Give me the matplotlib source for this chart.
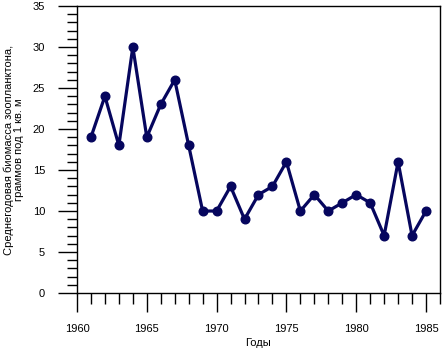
import matplotlib
matplotlib.use("Agg")
import matplotlib.pyplot as plt
from matplotlib.ticker import MultipleLocator

years = [1961, 1962, 1963, 1964, 1965, 1966, 1967, 1968, 1969, 1970, 1971, 1972, 1973,
         1974, 1975, 1976, 1977, 1978, 1979, 1980, 1981, 1982, 1983, 1984, 1985]
biomass = [19, 24, 18, 30, 19, 23, 26, 18, 10, 10, 13, 9, 12,
           13, 16, 10, 12, 10, 11, 12, 11, 7, 16, 7, 10]

plt.rcParams['font.family'] = ['Liberation Sans', 'DejaVu Sans']

fig = plt.figure(figsize=(4.46, 3.55), dpi=100)
ax = fig.add_axes([0.1726, 0.1746, 0.9865 - 0.1726, 0.983 - 0.1746])
color = '#06065e'
ax.plot(years, biomass, color=color, lw=2.3, marker='o', ms=6.2, mec=color, mfc=color)

ax.set_xlim(1960, 1986)
ax.set_ylim(0, 35)
ax.xaxis.set_major_locator(MultipleLocator(5))
ax.xaxis.set_minor_locator(MultipleLocator(1))
ax.yaxis.set_major_locator(MultipleLocator(5))
ax.yaxis.set_minor_locator(MultipleLocator(1))
ax.tick_params(axis='both', which='major', direction='out', length=14, width=1, labelsize=8, color='black')
ax.tick_params(axis='y', which='major', pad=9)
ax.tick_params(axis='x', which='major', pad=8)
ax.tick_params(axis='y', which='minor', direction='out', length=7, width=1)
ax.tick_params(axis='x', which='minor', direction='out', length=8, width=1)
for s in ax.spines.values():
    s.set_linewidth(1)
    s.set_color('black')

ax.set_xlabel('Годы', fontsize=8, labelpad=3)
ax.set_ylabel('Среднегодовая биомасса зоопланктона,\nграммов под 1 кв. м', fontsize=8, labelpad=6, linespacing=1.0)

fig.savefig('out.png', dpi=100)
